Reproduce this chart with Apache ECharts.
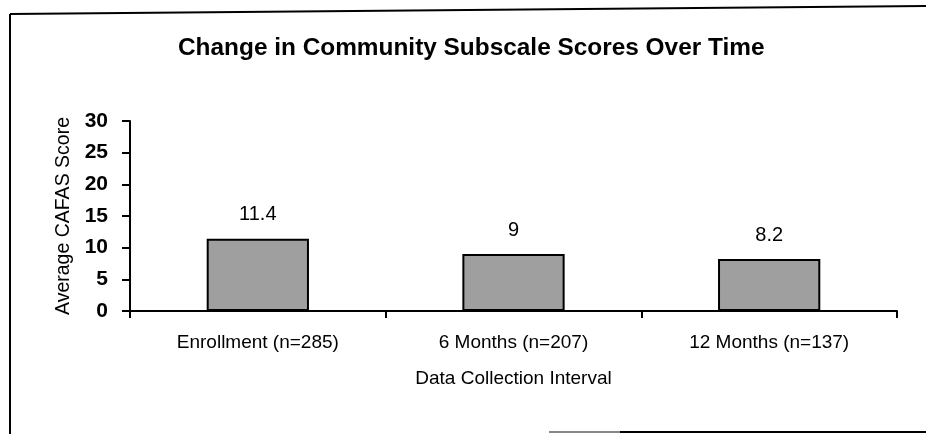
<!DOCTYPE html>
<html>
<head>
<meta charset="utf-8">
<script src="https://cdn.jsdelivr.net/npm/echarts@6/dist/echarts.min.js"></script>
<style>
  html, body { margin: 0; padding: 0; background: #fff; }
  #chart { width: 926px; height: 434px; }
</style>
</head>
<body>
<div id="chart"></div>
<script>
  const categories = ['Enrollment (n=285)', '6 Months (n=207)', '12 Months (n=137)'];
  const scores = [11.4, 9, 8.2];
  const yTicks = { min: 0, max: 30, interval: 5 };

  const font = '"Liberation Sans", Arial, sans-serif';
  const chart = echarts.init(document.getElementById('chart'), null, { renderer: 'canvas' });

  chart.setOption({
    backgroundColor: '#fff',
    animation: false,
    title: {
      text: 'Change in Community Subscale Scores Over Time',
      left: 178,
      top: 36,
      padding: 0,
      textStyle: { fontFamily: font, fontSize: 24.4, fontWeight: 'bold', color: '#000' }
    },
    grid: { left: 130, right: 29, top: 121, bottom: 123 },
    xAxis: {
      type: 'category',
      data: categories,
      name: 'Data Collection Interval',
      nameLocation: 'middle',
      nameGap: 58,
      nameTextStyle: { fontFamily: font, fontSize: 19, color: '#000' },
      axisLine: { lineStyle: { color: '#000', width: 2 } },
      axisTick: { show: true, length: 7, lineStyle: { color: '#000', width: 2 } },
      axisLabel: { fontFamily: font, fontSize: 19, color: '#000', margin: 22 }
    },
    yAxis: {
      type: 'value',
      min: yTicks.min,
      max: yTicks.max,
      interval: yTicks.interval,
      name: 'Average CAFAS Score',
      nameLocation: 'middle',
      nameGap: 55,
      nameTextStyle: { fontFamily: font, fontSize: 19.5, color: '#000' },
      axisLine: { show: true, lineStyle: { color: '#000', width: 2 } },
      axisTick: { show: true, length: 8, lineStyle: { color: '#000', width: 2 } },
      axisLabel: { fontFamily: font, fontSize: 21, fontWeight: 'bold', color: '#000', margin: 22 },
      splitLine: { show: false }
    },
    series: [{
      type: 'bar',
      data: scores,
      barWidth: '40%',
      itemStyle: { color: '#9f9f9f', borderColor: '#000', borderWidth: 2 },
      label: {
        show: true,
        position: 'top',
        distance: 14,
        fontFamily: font,
        fontSize: 20,
        color: '#000'
      }
    }],
    graphic: [
      // frame around the chart (scanned page border)
      { type: 'line', shape: { x1: 10, y1: 14, x2: 926, y2: 6 }, style: { stroke: '#000', lineWidth: 2 } },
      { type: 'line', shape: { x1: 10, y1: 14, x2: 10, y2: 434 }, style: { stroke: '#000', lineWidth: 2 } },
      { type: 'line', shape: { x1: 549, y1: 432, x2: 620, y2: 432 }, style: { stroke: '#888', lineWidth: 2 } },
      { type: 'line', shape: { x1: 620, y1: 432, x2: 926, y2: 432 }, style: { stroke: '#000', lineWidth: 2 } }
    ]
  });
</script>
</body>
</html>
